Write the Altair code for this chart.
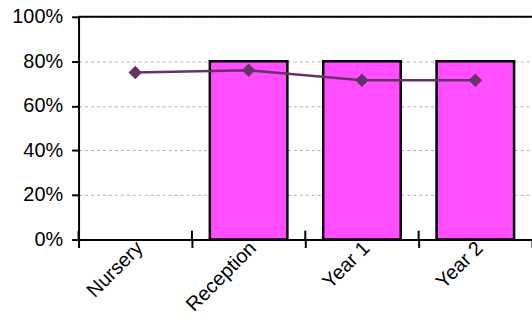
import altair as alt
import pandas as pd

categories = ["Nursery", "Reception", "Year 1", "Year 2"]
bar_values = [None, 0.80, 0.80, 0.80]
line_values = [0.75, 0.76, 0.715, 0.715]
y_ticks = [0, 0.2, 0.4, 0.6, 0.8, 1.0]

df = pd.DataFrame({"cat": categories, "bar": bar_values, "line": line_values})

FONT = "Liberation Sans"
xscale = alt.Scale(domain=categories, paddingInner=0, paddingOuter=0)
yscale = alt.Scale(domain=[0, 1], nice=False)

x_axis = alt.Axis(
    title=None, labelAngle=-45, labelFont=FONT, labelFontSize=20, labelColor="black",
    labelAlign="right", labelBaseline="top",
    tickBand="extent", tickSize=8, tickWidth=2, tickColor="black",
    domainColor="black", domainWidth=2, labelPadding=-10, labelOffset=-3, grid=False,
)
y_axis = alt.Axis(
    title=None, values=y_ticks, format=".0%", labelFont=FONT, labelFontSize=20,
    labelColor="black", tickSize=7, tickWidth=2, tickColor="black",
    domainColor="black", domainWidth=2, labelPadding=9,
    grid=True, gridColor="#b0b0b0", gridDash=[3, 3], gridWidth=1,
)

base = alt.Chart(df)

bars = base.mark_bar(width={"band": 0.684}, color="#FF4DFF", stroke="black", strokeWidth=2.5).encode(
    x=alt.X("cat:N", sort=categories, scale=xscale, axis=x_axis),
    y=alt.Y("bar:Q", scale=yscale, axis=y_axis),
)

line = base.mark_line(color="#663366", strokeWidth=2.5).encode(
    x=alt.X("cat:N", sort=categories),
    y=alt.Y("line:Q"),
)

points = base.mark_point(shape="diamond", filled=True, size=180, color="#663366", opacity=1).encode(
    x=alt.X("cat:N", sort=categories),
    y=alt.Y("line:Q"),
)

inner_ticks = base.mark_rule(color="black", strokeWidth=2).encode(
    x=alt.X("cat:N", sort=categories, bandPosition=0),
    y=alt.datum(0),
    y2=alt.datum(0.04),
)

top_border = alt.Chart(pd.DataFrame({"v": [1.0]})).mark_rule(color="black", strokeWidth=2).encode(
    y=alt.Y("v:Q"),
)

chart = alt.layer(bars, line, points, inner_ticks, top_border).properties(
    width=456, height=224,
    autosize=alt.AutoSizeParams(type="none"),
    padding={"left": 79, "top": 16, "right": 0, "bottom": 81},
    background="white",
).configure_view(strokeWidth=0)

chart.save("out.html", embed_options={"renderer": "svg", "actions": False})
